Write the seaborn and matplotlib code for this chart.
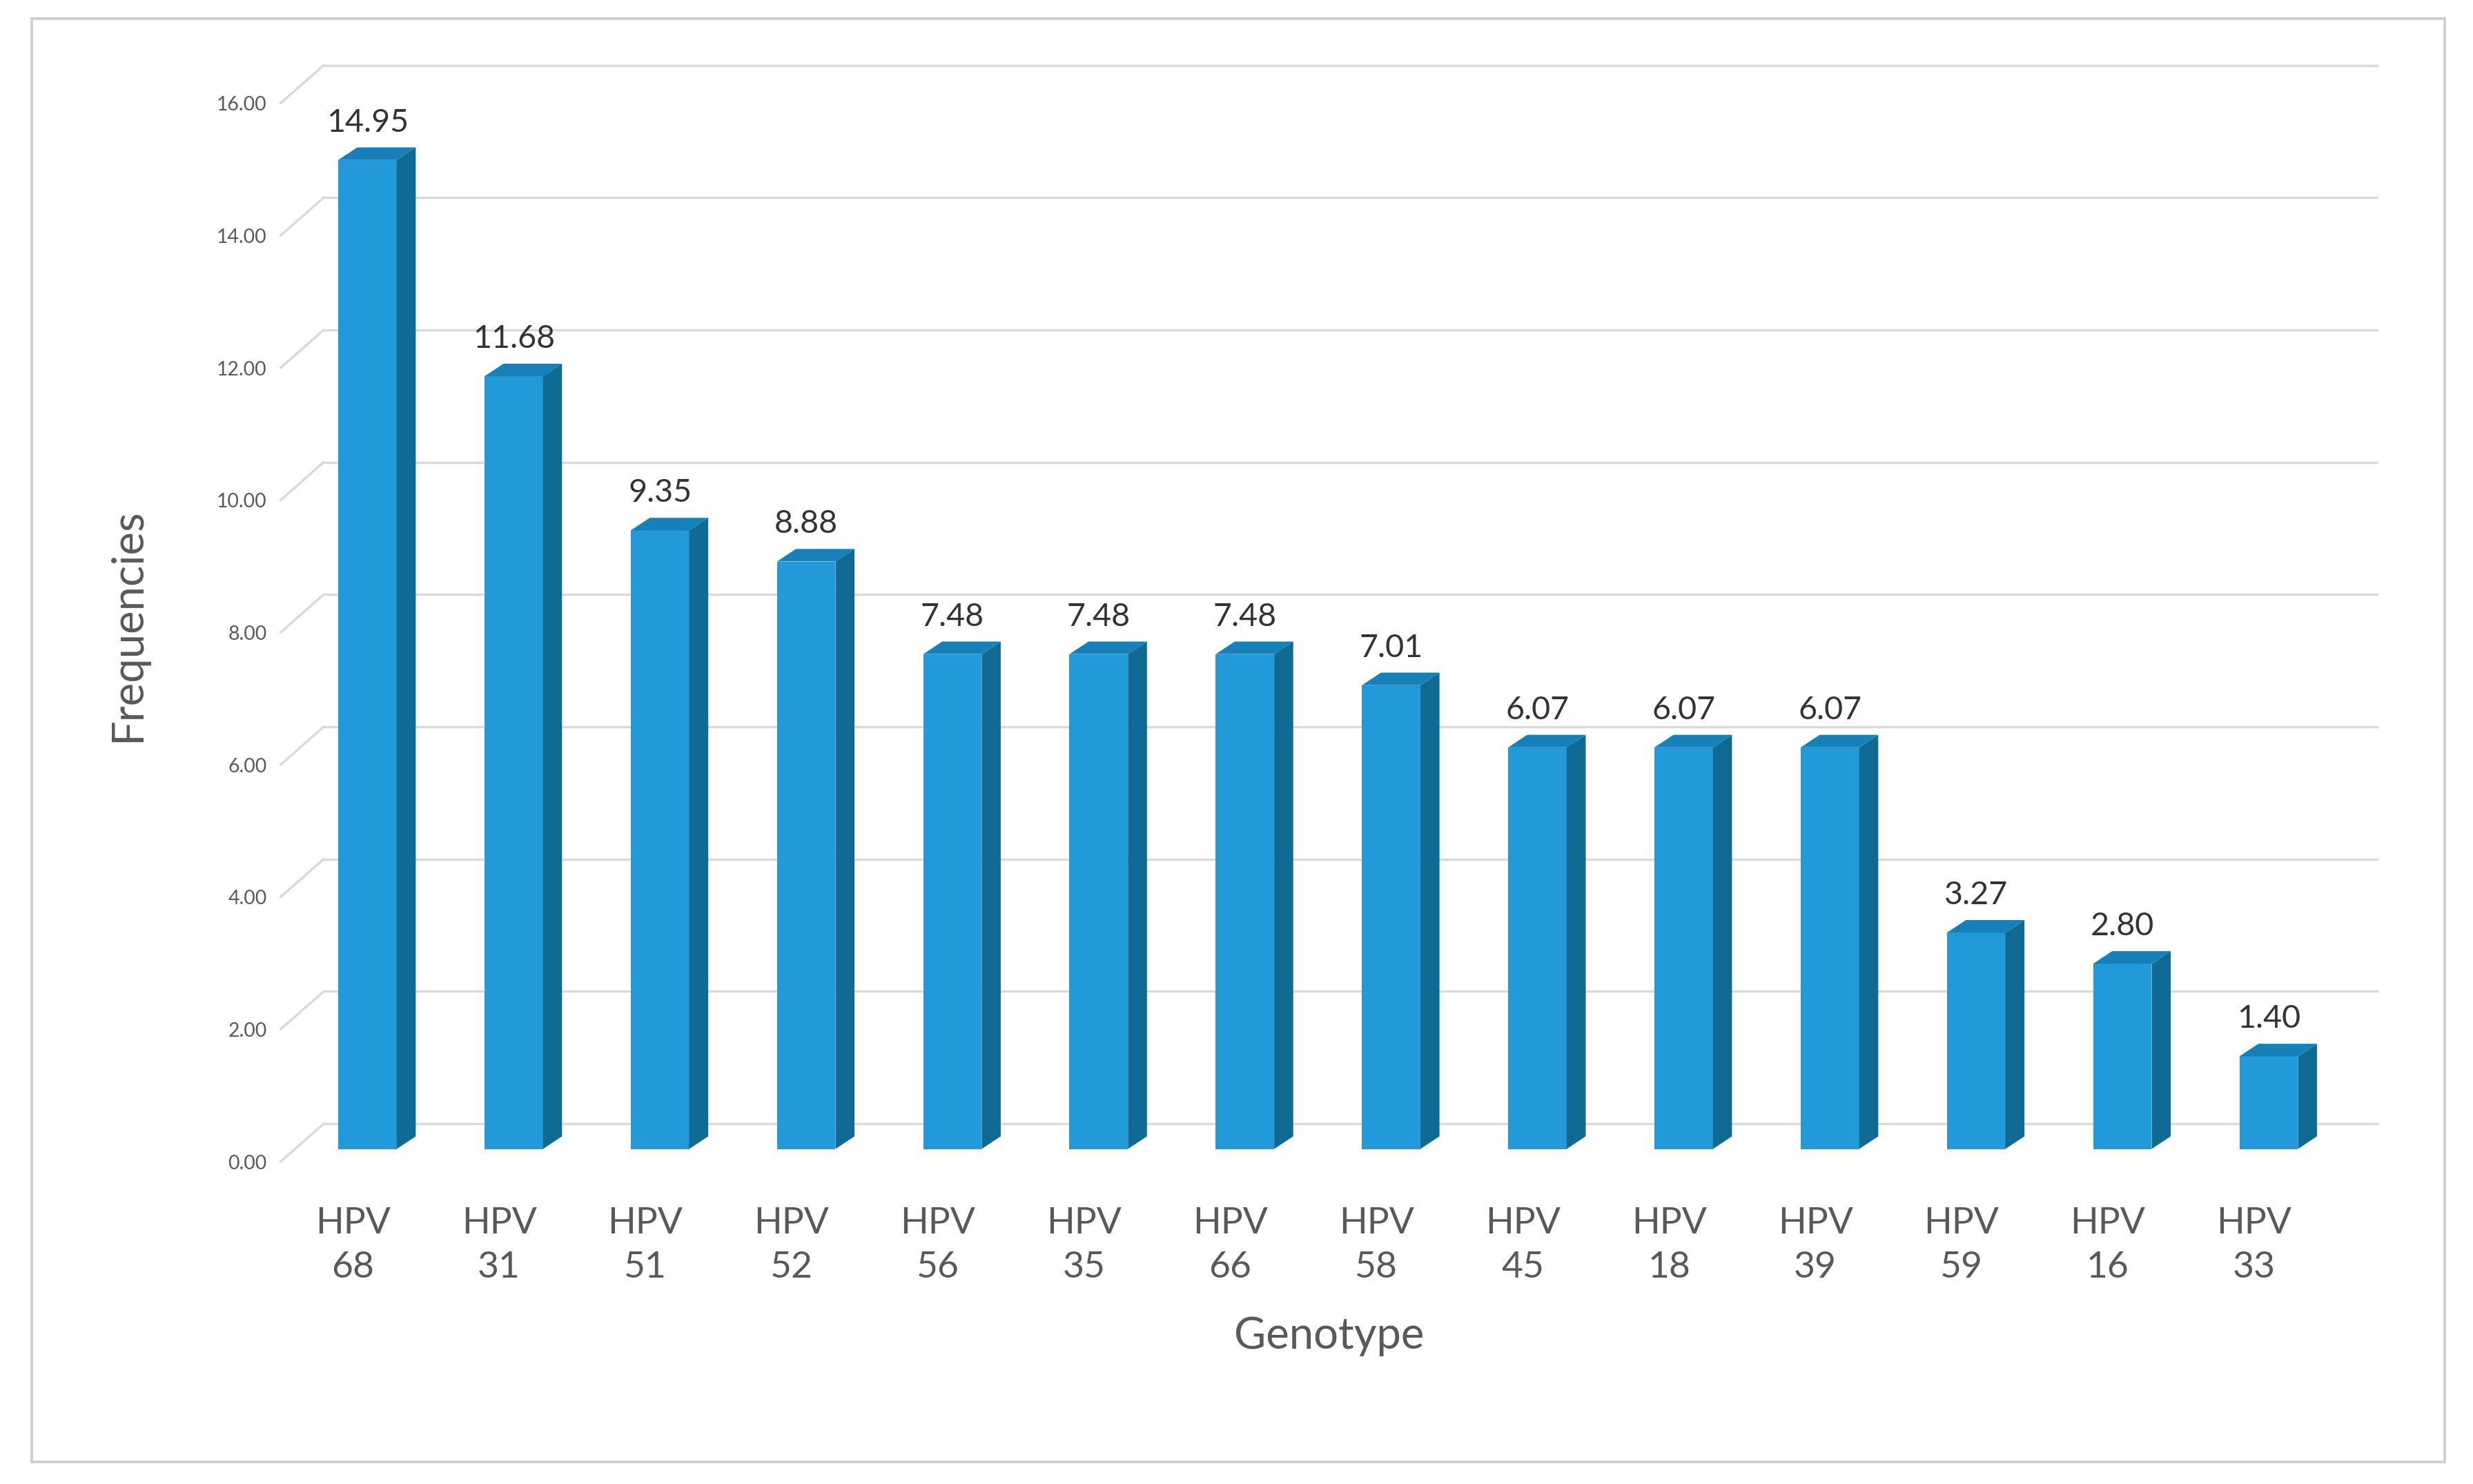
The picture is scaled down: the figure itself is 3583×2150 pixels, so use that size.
import numpy as np
import pandas as pd
import matplotlib
matplotlib.use("Agg")
import matplotlib.pyplot as plt
from matplotlib.patches import Polygon, Rectangle
import seaborn as sns

plt.rcParams["font.family"] = "Lato"

genotypes = ["HPV\n68", "HPV\n31", "HPV\n51", "HPV\n52", "HPV\n56", "HPV\n35", "HPV\n66",
             "HPV\n58", "HPV\n45", "HPV\n18", "HPV\n39", "HPV\n59", "HPV\n16", "HPV\n33"]
frequencies = [14.95, 11.68, 9.35, 8.88, 7.48, 7.48, 7.48, 7.01, 6.07, 6.07, 6.07, 3.27, 2.80, 1.40]
ytick_values = [0, 2, 4, 6, 8, 10, 12, 14, 16]

df = pd.DataFrame({"Genotype": genotypes, "Frequencies": frequencies})

W, H = 1568, 940
fig = plt.figure(figsize=(14.93, 8.96), dpi=240)
fig.patches.append(Rectangle((20 / W, 1 - 926 / H), 1530 / W, 914 / H, transform=fig.transFigure,
                             fill=False, edgecolor="#d0d0d0", lw=1.2))
ax = fig.add_axes([178 / W, 1 - 750 / H, (1507 - 178) / W, (750 - 42) / H])

front, side, top = "#2299D8", "#0F6A94", "#1880B8"
sns.barplot(data=df, x="Genotype", y="Frequencies", color=front, saturation=1, width=0.4, ax=ax, zorder=3)
ax.set_xlim(-0.593, 13.74)
ax.set_ylim(-0.53, 16.37)

dx, dy = 0.13, 0.19
for p in list(ax.patches):
    xl = p.get_x(); xr = xl + p.get_width(); h = p.get_height()
    ax.add_patch(Polygon([(xr, 0), (xr + dx, dy), (xr + dx, h + dy), (xr, h)], closed=True,
                         facecolor=side, edgecolor="none", zorder=3))
    ax.add_patch(Polygon([(xl, h), (xl + dx, h + dy), (xr + dx, h + dy), (xr, h)], closed=True,
                         facecolor=top, edgecolor="none", zorder=3))
    ax.text(xl + p.get_width() / 2, h + 0.35, f"{h:.2f}", ha="center", va="bottom",
            fontsize=14, color="#333333", zorder=4)

for v in ytick_values:
    ax.plot([-0.30, 13.74], [v + 0.38, v + 0.38], color="#d9d9d9", lw=1, zorder=1, clip_on=False)
    ax.plot([-0.593, -0.30], [v - 0.19, v + 0.38], color="#d9d9d9", lw=1, zorder=1, clip_on=False)

ax.set_yticks([v - 0.19 for v in ytick_values], [f"{v:.2f}" for v in ytick_values])
ax.set_xticks(np.arange(len(genotypes)) - 0.1, genotypes)
ax.tick_params(axis="y", length=0, labelsize=8.5, labelcolor="#595959", pad=6)
ax.tick_params(axis="x", length=0, labelsize=16, labelcolor="#595959", pad=10)
for t in ax.get_xticklabels():
    t.set_linespacing(1.45)
for s in ax.spines.values():
    s.set_visible(False)
ax.set_xlabel("Genotype", fontsize=19, color="#595959", labelpad=14)
ax.set_ylabel("Frequencies", fontsize=19, color="#595959", labelpad=30)
ax.set_facecolor("none")
fig.savefig("out.png", dpi=240, facecolor="white")
